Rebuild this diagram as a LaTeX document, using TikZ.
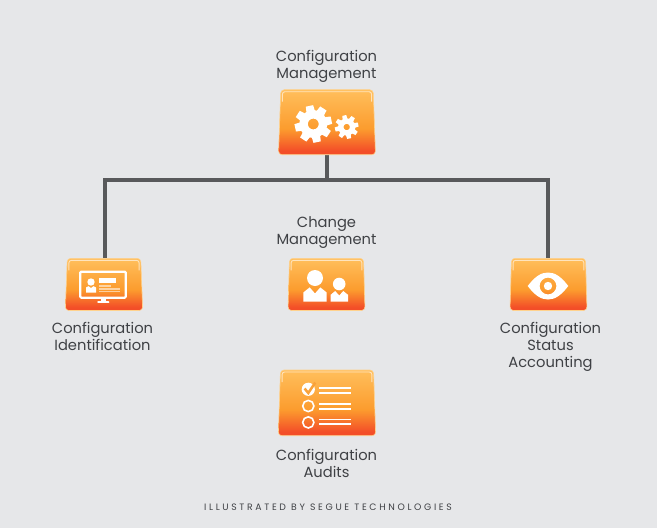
\documentclass[tikz,border=0pt]{standalone}
\usepackage{fontspec}
\setmainfont{Poppins}
\newfontfamily\footfont[LetterSpace=28.5]{Poppins}
\definecolor{bgc}{HTML}{E6E7E9}
\definecolor{linec}{HTML}{58595B}
\definecolor{txtc}{HTML}{3F4145}
\definecolor{gtop}{HTML}{FFBF5C}
\definecolor{gmid}{HTML}{FC9C2E}
\definecolor{gbot}{HTML}{F34E28}
\definecolor{chk}{HTML}{F9A23A}
\pgfdeclareverticalshading{cardshade}{100bp}{color(0bp)=(gbot); color(25bp)=(gbot); color(28bp)=(gbot); color(45bp)=(gmid); color(75bp)=(gtop); color(100bp)=(gtop)}
\tikzset{
  x=1pt,y=-1pt,
  conn/.style={draw=linec,line width=4pt},
  lbl/.style={font=\fontsize{14.7}{17}\selectfont,text=txtc,align=center,inner sep=0pt}
}
% name, cx, top, bottom, top half width, bottom half width
\newcommand{\cardbox}[6]{%
  \path[shading=cardshade,draw=gtop!70!white,line width=0.6pt,rounded corners=3.5pt]
    (#2-#5,#3) -- (#2+#5,#3) -- (#2+#6,#4) -- (#2-#6,#4) -- cycle;
  \draw[white,opacity=.6,line width=.9pt,rounded corners=2.5pt]
    (#2-#5+1.6,#3+12) -- (#2-#5+1.6,#3+2) -- (#2+#5-1.6,#3+2) -- (#2+#5-1.6,#3+12);
  \node[inner sep=0pt,minimum width=2*#6 pt,minimum height=#4 pt-#3 pt] (#1) at (#2,{(#3+#4)/2}) {};
}
% cx cy outer body hole teeth toothwidth
\newcommand{\gearicon}[7]{%
  \draw[white,line width=#3 pt-#5 pt] (#1,#2) circle ({(#3+#5)/2});
  \foreach \a in {1,...,#6}{
    \fill[white,shift={(#1,#2)},rotate=\a*360/#6+12] (#3-1,-#7/2-.5) -- (#4,-#7/2) -- (#4,#7/2) -- (#3-1,#7/2+.5) -- cycle;
  }
}
\newcommand{\personicon}[7]{% cx headcy headr left right top bottom
  \fill[white] (#1,#2) circle (#3);
  \fill[white] (#4,#7) -- (#4,#6+.35*#7-.35*#6) -- (#1-.46*#5+.46*#1,#6) -- (#1,#6+.42*#7-.42*#6) -- (#1+.46*#5-.46*#1,#6) -- (#5,#6+.35*#7-.35*#6) -- (#5,#7) -- cycle;
}
\begin{document}
\begin{tikzpicture}
\useasboundingbox[fill=bgc] (0,0) rectangle (657,528);
% anchors for the connectors, drawn under the cards
\node[inner sep=0pt,minimum width=97pt,minimum height=65pt] (cm) at (326.5,122) {};
\node[inner sep=0pt,minimum width=77pt,minimum height=52pt] (ci) at (104.5,284.5) {};
\node[inner sep=0pt,minimum width=77pt,minimum height=52pt] (sa) at (548,284.5) {};
\coordinate (bus) at (cm.south |- 0,180);
\draw[conn] (ci.north) |- (bus) -| (sa.north);
\draw[conn] (cm.south) -- (bus);

\cardbox{cmcard}{327}{89.7}{154.7}{46.2}{48.5}
\cardbox{cicard}{104}{258.3}{310.5}{36.7}{38.7}
\cardbox{chcard}{326.5}{258.3}{310.5}{37}{38.5}
\cardbox{sacard}{548.5}{258.3}{310.5}{37}{38.5}
\cardbox{aucard}{327}{370}{435.7}{46.5}{48.7}

% gears
\gearicon{313.3}{124}{14}{18.5}{5.5}{8}{7.5}
\gearicon{346.7}{127}{8.6}{11.8}{3.2}{8}{4}

% monitor
\draw[white,line width=2.2pt,rounded corners=1pt] (80.3,271.7) rectangle (125.7,297.7);
\fill[white] (100.5,298) rectangle (105.5,302);
\fill[white,rounded corners=.6pt] (97.3,301.2) rectangle (109.3,302.8);
\fill[white] (91,282) circle (3.7);
\fill[white] (86,292.7) -- (86,287.5) -- (88.5,286.2) -- (91,288) -- (93.5,286.2) -- (96,287.5) -- (96,292.7) -- cycle;
\fill[white] (99.3,278.3) rectangle (116,282.7);
\fill[white,opacity=.55] (99.3,285) rectangle (111,286.7);
\fill[white,opacity=.55] (99.3,288.3) rectangle (120,289.8);
\fill[white,opacity=.55] (99.3,290.8) rectangle (120,291.6);

% people
\personicon{315}{278}{8}{303.4}{326.6}{287.4}{301.7}
\personicon{339.2}{284}{6.3}{330.7}{348}{291}{301.7}

% eye
\fill[white,even odd rule]
  (527.7,286) .. controls (535,276.5) and (541,272.5) .. (548,272.5)
  .. controls (555,272.5) and (561,276.5) .. (568.3,286)
  .. controls (561,295.5) and (555,299.5) .. (548,299.5)
  .. controls (541,299.5) and (535,295.5) .. (527.7,286) -- cycle
  (548,286) circle (8.4) (548,286) circle (4.2);

% checklist
\fill[white] (308.3,389.3) circle (6.6);
\draw[chk,line width=2.5pt] (304.6,388.5) -- (308.3,393) -- (315.2,382.6);
\draw[white,line width=1.6pt] (308.3,406) circle (5.6);
\draw[white,line width=1.6pt] (308.3,422.4) circle (5.6);
\foreach \yy in {387.7,392.7,403.7,408.7,419.4,424.2}{
  \draw[white,line width=1.6pt] (319,\yy) -- (351,\yy);
}

% labels
\node[lbl] (t1) at (326.5,66) {Configuration\\Management};
\node[lbl] (t2) at (102.5,336.5) {Configuration\\Identification};
\node[lbl] (t3) at (326.5,232.8) {Change\\Management};
\node[lbl] (t4) at (550.5,346.5) {Configuration\\Status\\Accounting};
\node[lbl] (t5) at (326.5,463.5) {Configuration\\Audits};
\node[inner sep=0pt,text=txtc,font=\fontsize{9.3}{10}\footfont] (t6) at (328,507) {ILLUSTRATED BY SEGUE TECHNOLOGIES};
\end{tikzpicture}
\end{document}
